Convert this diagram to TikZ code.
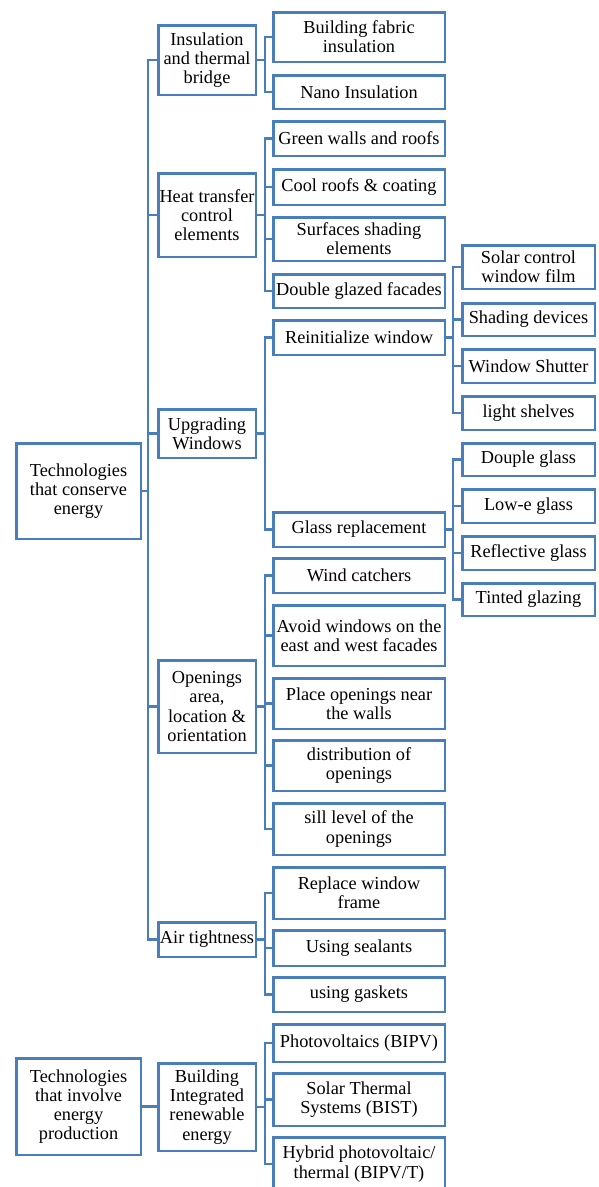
\documentclass[tikz,border=0pt]{standalone}
\usepackage{fontspec}
\setmainfont{Liberation Serif}
\definecolor{lc}{HTML}{4A7EBB}
\tikzset{
  box/.style={draw=lc, line width=2.5pt, inner sep=0pt, align=center,
    font=\fontsize{18.3}{19.2}\selectfont},
  conn/.style={draw=lc, line width=2.5pt}
}
\newcommand\bx[6]{\node[box,minimum width={#4-#2-2.5},minimum height={#5-#3-2.5}] (#1) at ({(#2+#4)/2},{(#3+#5)/2}) {#6};}
\begin{document}
\begin{tikzpicture}[x=1pt,y=-1pt]
\useasboundingbox (0,0) rectangle (598,1187);
\coordinate (bx1) at (148,0);
\coordinate (bx2) at (265,0);
\coordinate (bx3) at (453,0);
% level 0
\bx{r1}{15}{442}{142}{540}{Technologies\\that conserve\\energy}
\bx{r2}{15}{1057}{142}{1156}{Technologies\\that involve\\energy\\production}
% level 1
\bx{a1}{157}{24}{257}{96}{Insulation\\and thermal\\bridge}
\bx{a2}{157}{172}{257}{258}{Heat transfer\\control\\elements}
\bx{a3}{157}{408}{257}{459}{Upgrading\\Windows}
\bx{a4}{157}{659}{257}{754}{Openings\\area,\\location \&\\orientation}
\bx{a5}{157}{921}{257}{958}{Air tightness}
\bx{a6}{157}{1062}{257}{1152}{Building\\Integrated\\renewable\\energy}
% level 2
\bx{b1}{272}{11}{446}{63}{Building fabric\\insulation}
\bx{b2}{272}{74}{446}{110}{Nano Insulation}
\bx{b3}{272}{120}{446}{157}{Green walls and roofs}
\bx{b4}{272}{168}{446}{206}{Cool roofs \& coating}
\bx{b5}{272}{216}{446}{262}{Surfaces shading\\elements}
\bx{b6}{272}{273}{446}{309}{Double glazed facades}
\bx{b7}{272}{319}{446}{356}{Reinitialize window}
\bx{b8}{272}{511}{446}{548}{Glass replacement}
\bx{b9}{272}{557}{446}{594}{Wind catchers}
\bx{b10}{272}{604}{446}{667}{Avoid windows on the\\east and west facades}
\bx{b11}{272}{677}{446}{730}{Place openings near\\the walls}
\bx{b12}{272}{739}{446}{792}{distribution of\\openings}
\bx{b13}{272}{802}{446}{856}{sill level of the\\openings}
\bx{b14}{272}{866}{446}{920}{Replace window\\frame}
\bx{b15}{272}{929}{446}{967}{Using sealants}
\bx{b16}{272}{976}{446}{1013}{using gaskets}
\bx{b17}{272}{1023}{446}{1063}{Photovoltaics (BIPV)}
\bx{b18}{272}{1072}{446}{1127}{Solar Thermal\\Systems (BIST)}
\bx{b19}{272}{1136}{446}{1192}{Hybrid photovoltaic/\\thermal (BIPV/T)}
% level 3
\bx{c1}{461}{244}{596}{290}{Solar control\\window film}
\bx{c2}{461}{302}{596}{337}{Shading devices}
\bx{c3}{461}{348}{596}{384}{Window Shutter}
\bx{c4}{461}{395}{596}{431}{light shelves}
\bx{c5}{461}{442}{596}{477}{Douple glass}
\bx{c6}{461}{488}{596}{524}{Low-e glass}
\bx{c7}{461}{535}{596}{571}{Reflective glass}
\bx{c8}{461}{582}{596}{617}{Tinted glazing}
% connectors
\foreach \c in {a1,a2,a3,a4,a5}
  \draw[conn] (r1.east) -- (r1.east -| bx1) |- (\c.west);
\draw[conn] (r2.east) -- (r2.east -| a6.west);
\foreach \p/\cs in {a1/{b1,b2}, a2/{b3,b4,b5,b6}, a3/{b7,b8}, a4/{b9,b10,b11,b12,b13}, a5/{b14,b15,b16}, a6/{b17,b18,b19}}
  \foreach \c in \cs
    \draw[conn] (\p.east) -- (\p.east -| bx2) |- (\c.west);
\foreach \p/\cs in {b7/{c1,c2,c3,c4}, b8/{c5,c6,c7,c8}}
  \foreach \c in \cs
    \draw[conn] (\p.east) -- (\p.east -| bx3) |- (\c.west);
\end{tikzpicture}
\end{document}
